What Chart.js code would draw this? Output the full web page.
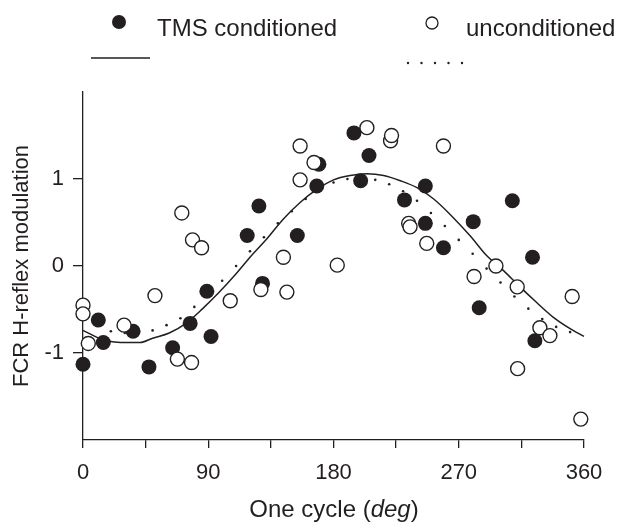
<!DOCTYPE html>
<html>
<head>
<meta charset="utf-8">
<script src="https://cdn.jsdelivr.net/npm/chart.js@4"></script>
<style>
  html, body { margin: 0; padding: 0; background: #fff; }
</style>
</head>
<body>
<canvas id="myChart" width="626" height="532"></canvas>
<script>
// TMS conditioned (filled circles)
const tmsX = [0, 11, 14.6, 36, 47.4, 64.4, 77, 89, 92, 118, 126.4, 129, 154, 168, 169.5, 194.7, 199.5, 205.5, 231, 246, 246, 259, 280.4, 284.7, 308.5, 323, 324.7];
const tmsY = [-1.13, -0.62, -0.88, -0.75, -1.16, -0.94, -0.66, -0.29, -0.81, 0.35, 0.69, -0.20, 0.35, 0.92, 1.17, 1.53, 0.98, 1.27, 0.76, 0.92, 0.49, 0.21, 0.51, -0.48, 0.75, 0.10, -0.86];

// unconditioned (open circles)
const uncX = [0, 0, 3.8, 29.5, 51.7, 67.8, 71, 78, 78.7, 85.2, 105.8, 127.8, 144, 146.5, 156, 156, 166, 182.7, 204, 221, 221.7, 234, 235, 247, 259, 281, 296.7, 312, 312.3, 328.3, 335.5, 351.5, 357.7];
const uncY = [-0.45, -0.55, -0.89, -0.68, -0.34, -1.07, 0.61, -1.11, 0.30, 0.21, -0.40, -0.27, 0.10, -0.30, 0.99, 1.38, 1.19, 0.01, 1.59, 1.44, 1.50, 0.49, 0.45, 0.26, 1.38, -0.12, 0.00, -0.24, -1.18, -0.71, -0.80, -0.35, -1.76];

// fitted curve, TMS conditioned (solid)
const fitTmsX = [0, 15, 32, 41, 50, 62, 74, 86, 98, 110, 120, 132, 144, 156, 168, 180, 192, 204, 216, 228, 240, 252, 264, 278, 290, 302, 314, 326, 338, 350, 360];
const fitTmsY = [-0.74, -0.85, -0.88, -0.88, -0.83, -0.77, -0.66, -0.49, -0.30, -0.09, 0.10, 0.31, 0.54, 0.73, 0.88, 0.99, 1.04, 1.06, 1.04, 0.98, 0.90, 0.77, 0.59, 0.35, 0.12, -0.05, -0.24, -0.42, -0.59, -0.72, -0.81];

// fitted curve, unconditioned (dotted)
const fitUncX = [0, 10, 20, 30, 40, 50, 60, 70, 80, 90, 100, 110, 120, 130, 140, 150, 160, 170, 180, 190, 200, 210, 220, 230, 240, 250, 260, 270, 280, 290, 300, 310, 320, 330, 340, 350];
const fitUncY = [-0.60, -0.69, -0.75, -0.77, -0.77, -0.74, -0.68, -0.60, -0.47, -0.32, -0.17, 0.00, 0.17, 0.33, 0.49, 0.63, 0.77, 0.88, 0.96, 1.00, 1.01, 0.99, 0.94, 0.86, 0.75, 0.61, 0.46, 0.30, 0.14, -0.03, -0.19, -0.35, -0.49, -0.61, -0.70, -0.76];

const xTickLabels = [0, 90, 180, 270, 360];
const yTickValues = [-1, 0, 1];

const ink = '#231f20';
const fontFamily = '"Liberation Sans", Arial, sans-serif';

function pts(xs, ys) {
    return xs.map((x, i) => ({ x: x, y: ys[i] }));
}

// legend + x title with italic part
const extras = {
    id: 'extras',
    afterDraw(chart) {
        const c = chart.ctx;
        c.save();
        c.fillStyle = ink;
        c.strokeStyle = ink;

        // legend markers
        c.beginPath();
        c.arc(119, 22, 7, 0, Math.PI * 2);
        c.fill();
        c.lineWidth = 1.3;
        c.beginPath();
        c.arc(432, 23, 6, 0, Math.PI * 2);
        c.stroke();

        c.font = '24px ' + fontFamily;
        c.textBaseline = 'alphabetic';
        c.textAlign = 'left';
        c.fillText('TMS conditioned', 157, 36);
        c.fillText('unconditioned', 466, 36);

        // legend line samples
        c.lineWidth = 1.3;
        c.beginPath();
        c.moveTo(91, 58);
        c.lineTo(150, 58);
        c.stroke();
        for (let i = 0; i < 5; i++) {
            c.beginPath();
            c.arc(408 + i * 13.5, 63, 1.2, 0, Math.PI * 2);
            c.fill();
        }

        // x axis title
        const a = 'One cycle (', b = 'deg', d = ')';
        c.font = '24px ' + fontFamily;
        const wa = c.measureText(a).width, wd = c.measureText(d).width;
        c.font = 'italic 24px ' + fontFamily;
        const wb = c.measureText(b).width;
        let x0 = 334 - (wa + wb + wd) / 2;
        const yT = 517;
        c.font = '24px ' + fontFamily;
        c.fillText(a, x0, yT);
        c.font = 'italic 24px ' + fontFamily;
        c.fillText(b, x0 + wa, yT);
        c.font = '24px ' + fontFamily;
        c.fillText(d, x0 + wa + wb, yT);
        c.restore();
    }
};

const ctx = document.getElementById('myChart').getContext('2d');

const config = {
    type: 'scatter',
    data: {
        datasets: [
            {
                label: 'unconditioned',
                data: pts(uncX, uncY),
                pointRadius: 7,
                pointBackgroundColor: '#ffffff',
                pointBorderColor: ink,
                pointBorderWidth: 1.4,
                clip: false,
                order: 0,
            },
            {
                label: 'TMS conditioned',
                data: pts(tmsX, tmsY),
                pointRadius: 7.5,
                pointBackgroundColor: ink,
                pointBorderColor: ink,
                pointBorderWidth: 0,
                clip: false,
                order: 1,
            },
            {
                label: 'fit TMS',
                data: pts(fitTmsX, fitTmsY),
                showLine: true,
                pointRadius: 0,
                borderColor: ink,
                borderWidth: 1.5,
                cubicInterpolationMode: 'monotone',
                clip: false,
                order: 2,
            },
            {
                label: 'fit unconditioned',
                data: pts(fitUncX, fitUncY),
                pointRadius: 1.3,
                pointBackgroundColor: ink,
                pointBorderWidth: 0,
                clip: false,
                order: 3,
            },
        ],
    },
    options: {
        responsive: false,
        animation: false,
        events: [],
        layout: { padding: { top: 92, right: 42, bottom: 0, left: 0 } },
        plugins: {
            legend: { display: false },
            tooltip: { enabled: false },
        },
        scales: {
            x: {
                type: 'linear',
                min: 0,
                max: 360,
                afterFit: s => { s.height = 92; },
                afterBuildTicks: s => {
                    s.ticks = [0, 45, 90, 135, 180, 225, 270, 315, 360].map(v => ({ value: v }));
                },
                ticks: {
                    autoSkip: false,
                    maxRotation: 0,
                    padding: 12,
                    color: ink,
                    font: { family: fontFamily, size: 22 },
                    callback: v => xTickLabels.includes(v) ? String(v) : '',
                },
                grid: { drawOnChartArea: false, drawTicks: true, tickLength: 8, color: ink, lineWidth: 1.3 },
                border: { display: true, color: ink, width: 1.3 },
            },
            y: {
                min: -2,
                max: 2,
                afterFit: s => { s.width = 83; },
                afterBuildTicks: s => {
                    s.ticks = yTickValues.map(v => ({ value: v }));
                },
                ticks: {
                    padding: 9,
                    color: ink,
                    font: { family: fontFamily, size: 22 },
                },
                grid: { drawOnChartArea: false, drawTicks: true, tickLength: 10, color: ink, lineWidth: 1.3 },
                border: { display: true, color: ink, width: 1.3 },
                title: {
                    display: true,
                    text: 'FCR H-reflex modulation',
                    color: ink,
                    font: { family: fontFamily, size: 22 },
                    padding: { top: 9, bottom: 0 },
                },
            },
        },
    },
    plugins: [extras],
};

const chart = new Chart(ctx, config);
</script>
</body>
</html>
